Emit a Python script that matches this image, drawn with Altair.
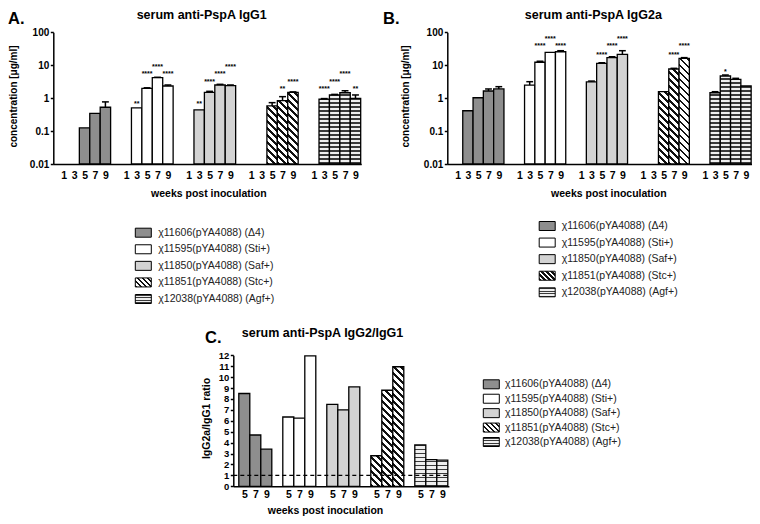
import math
import altair as alt

FONT = "Liberation Sans"

# ------------------------------------------------------------------ data
weeks_ab = [1, 3, 5, 7, 9]
weeks_c = [5, 7, 9]
strains = ["Δ4", "Sti+", "Saf+", "Stc+", "Agf+"]
legend_labels = [
    "χ11606(pYA4088) (Δ4)",
    "χ11595(pYA4088) (Sti+)",
    "χ11850(pYA4088) (Saf+)",
    "χ11851(pYA4088) (Stc+)",
    "χ12038(pYA4088) (Agf+)",
]
conc_ticks = [0.01, 0.1, 1, 10, 100]
ratio_ticks = list(range(0, 13))
ratio_reference = 1

# A. serum anti-PspA IgG1 (µg/ml)
igg1_mean = {
    "Δ4":   [None, None, 0.125, 0.345, 0.53],
    "Sti+": [None, 0.51, 1.99, 4.18, 2.34],
    "Saf+": [None, 0.44, 1.50, 2.51, 2.39],
    "Stc+": [None, None, 0.58, 0.84, 1.50],
    "Agf+": [None, 0.94, 1.25, 1.46, 0.99],
}
igg1_err = {
    "Δ4":   [None, None, None, None, 0.77],
    "Sti+": [None, None, 2.06, 4.30, 2.51],
    "Saf+": [None, None, 1.61, 2.63, 2.51],
    "Stc+": [None, None, 0.73, 1.11, 1.55],
    "Agf+": [None, 0.97, 1.30, 1.68, 1.25],
}
igg1_stars = {
    "Δ4":   ["", "", "", "", ""],
    "Sti+": ["", "**", "****", "****", "****"],
    "Saf+": ["", "**", "****", "****", "****"],
    "Stc+": ["", "", "", "**", "****"],
    "Agf+": ["", "****", "****", "****", "**"],
}
igg1_star_at = {
    "Δ4":   [None, None, None, None, None],
    "Sti+": [None, 0.75, 6.1, 10.2, 6.1],
    "Saf+": [None, 0.75, 3.56, 6.1, 10.2],
    "Stc+": [None, None, None, 2.13, 3.56],
    "Agf+": [None, 2.13, 3.56, 6.1, 2.13],
}

# B. serum anti-PspA IgG2a (µg/ml)
igg2a_mean = {
    "Δ4":   [None, 0.415, 1.03, 1.65, 1.90],
    "Sti+": [None, 2.5, 12.3, 24.7, 25.7],
    "Saf+": [None, 3.1, 11.4, 16.9, 21.4],
    "Stc+": [None, None, 1.57, 7.67, 16.2],
    "Agf+": [None, 1.46, 4.70, 3.73, 2.34],
}
igg2a_err = {
    "Δ4":   [None, None, None, 1.90, 2.23],
    "Sti+": [None, 3.16, 13.2, None, 27.6],
    "Saf+": [None, 3.3, 11.9, 18.1, 27.6],
    "Stc+": [None, None, None, 8.05, 17.0],
    "Agf+": [None, 1.57, 5.04, 4.0, None],
}
igg2a_stars = {
    "Δ4":   ["", "", "", "", ""],
    "Sti+": ["", "", "****", "****", "****"],
    "Saf+": ["", "", "****", "****", "****"],
    "Stc+": ["", "", "", "****", "****"],
    "Agf+": ["", "", "*", "", ""],
}
igg2a_star_at = {
    "Δ4":   [None, None, None, None, None],
    "Sti+": [None, None, 43, 70, 43],
    "Saf+": [None, None, 24, 43, 73],
    "Stc+": [None, None, None, 23, 43],
    "Agf+": [None, None, 7.2, None, None],
}

# C. IgG2a / IgG1 ratio, weeks 5, 7, 9
ratio = {
    "Δ4":   [8.5, 4.7, 3.4],
    "Sti+": [6.35, 6.25, 11.95],
    "Saf+": [7.5, 7.0, 9.1],
    "Stc+": [2.8, 8.8, 10.95],
    "Agf+": [3.8, 2.45, 2.4],
}

# ------------------------------------------------------------------ layout / style
W, H = 744, 508
AB_Y = (156.0, 24.3)            # pixel rows of 0.01 and 100
A_X0, A_SLOT = 45.3, 10.42
B_X0, B_SLOT = 439.3, 10.30
AB_DOM = (-1.0, 28.55)
C_X0, C_SLOT = 225.3, 11.0
C_DOM = (-1.0, 18.6)
C_SHIFT = -4.0
C_Y = (482.3 + C_SHIFT, 351.3 + C_SHIFT)   # pixel rows of 0 and 12
GROUP_AB, GROUP_C = 6, 4

SOLID = {"Δ4": "#8e8e8e", "Sti+": "#ffffff", "Saf+": "#d3d3d3"}


def _stops(n, dark, light, frac):
    out = []
    k = 0
    while k < n:
        a = round(k / n, 5)
        b = round(min((k + frac) / n, 1.0), 5)
        c = round(min((k + 1) / n, 1.0), 5)
        out += [{"offset": a, "color": dark}, {"offset": b, "color": dark},
                {"offset": b, "color": light}, {"offset": c, "color": light}]
        k += 1
    return out


def paint(strain, w, h, hperiod, dperiod):
    if strain in SOLID:
        return SOLID[strain]
    h = max(h, 0.5)
    if strain == "Agf+":
        n = max(h / hperiod, 1.0)
        return {"gradient": "linear", "x1": 0, "y1": 1, "x2": 0.00001, "y2": 0,
                "stops": _stops(n, "#3a3a3a", "#efefef", 0.42)}
    k = (w + h) / (w * w + h * h)
    n = max((w + h) / dperiod, 1.0)
    return {"gradient": "linear", "x1": 0, "y1": 1, "x2": round(k * w, 5),
            "y2": round(1 - k * h, 5), "stops": _stops(n, "#111111", "#ffffff", 0.42)}


def ab_records(mean, err, stars, star_at, slot):
    recs = []
    for g, s in enumerate(strains):
        for i, wk in enumerate(weeks_ab):
            v = mean[s][i]
            h = 0 if v is None else (AB_Y[0] - AB_Y[1]) * (math.log10(v) + 2) / 4
            recs.append({"pos": g * GROUP_AB + i, "week": wk, "strain": s, "v": v,
                         "err": err[s][i], "star": stars[s][i], "star_y": star_at[s][i],
                         "paint": paint(s, slot, h, 4.0, 7.0)})
    return recs


def c_records():
    recs = []
    for g, s in enumerate(strains):
        for i, wk in enumerate(weeks_c):
            v = ratio[s][i]
            h = (C_Y[0] - C_Y[1]) * v / 12
            recs.append({"pos": g * GROUP_C + i, "week": wk, "strain": s, "v": v,
                         "err": None, "star": "", "star_y": None,
                         "paint": paint(s, C_SLOT, h, 4.0, 7.0)})
    return recs


def xscale(x0, slot, dom):
    return alt.Scale(domain=list(dom), range=[x0, x0 + (dom[1] - dom[0]) * slot],
                     nice=False, zero=False)


def x_axis(values, expr, axis_y, title_x, title_y, padding):
    return alt.Axis(values=values, labelExpr=expr, orient="bottom", offset=axis_y - H,
                    grid=False, ticks=False, tickSize=0, domainColor="black", domainWidth=1.5,
                    labelFont=FONT, labelFontSize=10.5, labelFontWeight="bold", labelColor="black",
                    labelPadding=padding, labelOverlap=False, labelFlush=False,
                    title="weeks post inoculation", titleFont=FONT, titleFontSize=10.5,
                    titleFontWeight="bold", titleColor="black", titleX=title_x, titleY=title_y,
                    titleAlign="center", titleBaseline="alphabetic")


def y_axis(values, fmt, axis_x, title, title_x, title_y, size, tsize):
    return alt.Axis(values=values, format=fmt, orient="left", offset=-axis_x, grid=False,
                    ticks=True, tickSize=3, tickWidth=1.5, tickColor="black",
                    domainColor="black", domainWidth=1.5,
                    labelFont=FONT, labelFontSize=size, labelFontWeight="bold", labelColor="black",
                    labelPadding=1.5, labelOverlap=False, labelFlush=False,
                    title=title, titleFont=FONT, titleFontSize=tsize, titleFontWeight="bold",
                    titleColor="black", titleX=title_x, titleY=title_y, titleAngle=-90,
                    titleAlign="center", titleBaseline="middle")


def panel(recs, xsc, ysc, ybase, xax, yax, cap):
    base = alt.Chart(alt.Data(values=recs))
    bars = base.transform_filter("isValid(datum.v)").transform_calculate(
        x0="datum.pos - 0.5", x1="datum.pos + 0.5"
    ).mark_rect(stroke="black", strokeWidth=1.3).encode(
        x=alt.X("x0:Q", scale=xsc, axis=xax),
        x2="x1:Q",
        y=alt.Y("v:Q", scale=ysc, axis=yax),
        y2=alt.Y2Datum(ybase),
        fill=alt.Fill("paint:N", scale=None, legend=None),
    )
    errs = base.transform_filter("isValid(datum.err)").mark_rule(
        color="black", strokeWidth=1.5
    ).encode(
        x=alt.X("pos:Q", scale=xsc, axis=None),
        y=alt.Y("v:Q", scale=ysc, axis=None),
        y2="err:Q",
    )
    caps = base.transform_filter("isValid(datum.err)").transform_calculate(
        c0=f"datum.pos - {cap}", c1=f"datum.pos + {cap}"
    ).mark_rule(color="black", strokeWidth=1.5).encode(
        x=alt.X("c0:Q", scale=xsc, axis=None),
        x2="c1:Q",
        y=alt.Y("err:Q", scale=ysc, axis=None),
    )
    stars = base.transform_filter("isValid(datum.star_y) && datum.star !== ''").mark_text(
        font=FONT, fontSize=7, fontWeight="bold", baseline="middle", align="center",
        dy=2, color="black"
    ).encode(
        x=alt.X("pos:Q", scale=xsc, axis=None),
        y=alt.Y("star_y:Q", scale=ysc, axis=None),
        text="star:N",
    )
    return [bars, errs, caps, stars]


RECT_SHAPE = "M-1,-0.5625H1V0.5625H-1Z"


def legend(x_sym, x_txt, y0, y1):
    recs = [{"label": lab, "paint": paint(s, 16, 9, 2.6, 5.0)}
            for s, lab in zip(strains, legend_labels)]
    ysc = alt.Scale(type="point", domain=legend_labels, range=[y0, y1], padding=0)
    base = alt.Chart(alt.Data(values=recs))
    sym = base.mark_point(shape=RECT_SHAPE, size=256, filled=True, stroke="black",
                          strokeWidth=1, opacity=1).encode(
        x=alt.value(x_sym),
        y=alt.Y("label:N", scale=ysc, axis=None),
        fill=alt.Fill("paint:N", scale=None, legend=None),
    )
    txt = base.mark_text(font=FONT, fontSize=10.5, align="left", baseline="middle",
                         color="#222222").encode(
        x=alt.value(x_txt),
        y=alt.Y("label:N", scale=ysc, axis=None),
        text="label:N",
    )
    return [sym, txt]


def note(text, x, y, size, align="left", baseline="alphabetic"):
    return alt.Chart(alt.Data(values=[{"t": text}])).mark_text(
        font=FONT, fontSize=size, fontWeight="bold", align=align, baseline=baseline,
        color="black"
    ).encode(x=alt.value(x), y=alt.value(y), text="t:N")


ab_vals = [g * GROUP_AB + i for g in range(len(strains)) for i in range(len(weeks_ab))]
ab_expr = "[" + ",".join(f"'{w}'" for w in weeks_ab) + f"][datum.value % {GROUP_AB}]"
c_vals = [g * GROUP_C + i for g in range(len(strains)) for i in range(len(weeks_c))]
c_expr = "[" + ",".join(f"'{w}'" for w in weeks_c) + f"][datum.value % {GROUP_C}]"

ab_ysc = alt.Scale(type="log", domain=[0.01, 100], range=[AB_Y[0], AB_Y[1]], nice=False)
c_ysc = alt.Scale(type="linear", domain=[0, 12], range=[C_Y[0], C_Y[1]], nice=False, zero=True)

a_xsc = xscale(A_X0, A_SLOT, AB_DOM)
b_xsc = xscale(B_X0, B_SLOT, AB_DOM)
c_xsc = xscale(C_X0, C_SLOT, C_DOM)

panel_a = panel(
    ab_records(igg1_mean, igg1_err, igg1_stars, igg1_star_at, A_SLOT), a_xsc, ab_ysc, 0.01,
    x_axis(ab_vals, ab_expr, AB_Y[0], 200.3, 32, 6),
    y_axis(conc_ticks, "~g", A_X0, "concentration [μg/ml]", 5 - A_X0, 88, 10, 10),
    0.33,
)
panel_b = panel(
    ab_records(igg2a_mean, igg2a_err, igg2a_stars, igg2a_star_at, B_SLOT), b_xsc, ab_ysc, 0.01,
    x_axis(ab_vals, ab_expr, AB_Y[0], 600.3, 32, 6),
    y_axis(conc_ticks, "~g", B_X0, "concentration [μg/ml]", 397 - B_X0, 88, 10, 10),
    0.33,
)
panel_c = panel(
    c_records(), c_xsc, c_ysc, 0,
    x_axis(c_vals, c_expr, C_Y[0], 317, 505.5 - C_Y[0], 3.0),
    y_axis(ratio_ticks, "d", C_X0, "IgG2a/IgG1 ratio", 198 - C_X0, 414 + C_SHIFT, 9.5, 10.5),
    0.3,
)
ref_line = alt.Chart(alt.Data(values=[{"ref": ratio_reference}])).mark_rule(
    color="black", strokeWidth=1.4, strokeDash=[4, 3]
).encode(
    x=alt.XDatum(C_DOM[0], type="quantitative", scale=c_xsc, axis=None),
    x2=alt.X2Datum(C_DOM[1]),
    y=alt.Y("ref:Q", scale=c_ysc, axis=None),
)

layers = (
    panel_a + panel_b + panel_c + [ref_line]
    + legend(135.3, 150.3, 224.7, 291.0)
    + legend(539.2, 553.7, 218.0, 284.3)
    + legend(483.3, 497.0, 380.3 + C_SHIFT, 438.0 + C_SHIFT)
    + [
        note("A.", 0, 16, 16.5),
        note("B.", 375, 16, 16.5),
        note("C.", 197, 339 + C_SHIFT, 16.5),
        note("serum anti-PspA IgG1", 193.7, 6.5, 12.5, align="center", baseline="middle"),
        note("serum anti-PspA IgG2a", 585.3, 6.5, 12.5, align="center", baseline="middle"),
        note("serum anti-PspA IgG2/IgG1", 314.5, 329 + C_SHIFT, 12.5,
             align="center", baseline="middle"),
    ]
)

chart = alt.layer(*layers).resolve_scale(
    x="independent", y="independent"
).resolve_axis(
    x="independent", y="independent"
).properties(
    width=W, height=H, padding=0, autosize=alt.AutoSizeParams(type="none")
).configure_view(stroke=None)

chart.save("out.html", embed_options={"renderer": "svg", "actions": False})
